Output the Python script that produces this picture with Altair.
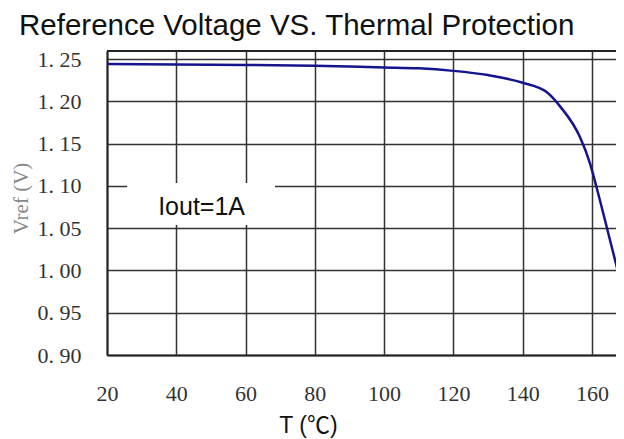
import altair as alt
import pandas as pd

# ---- data ----
temps = [20, 40, 60, 80, 100, 110, 120, 130, 140, 146.9, 150.8, 156.5, 159.4, 162.3, 165.2, 169.3, 171]
vref = [1.244, 1.2435, 1.243, 1.242, 1.240, 1.239, 1.236, 1.231, 1.222, 1.211, 1.194,
        1.158, 1.127, 1.083, 1.036, 0.969, 0.940]
x_ticks = [20, 40, 60, 80, 100, 120, 140, 160]
y_ticks = [0.90, 0.95, 1.00, 1.05, 1.10, 1.15, 1.20, 1.25]

title_text = "Reference Voltage VS. Thermal Protection"
x_title = "T (℃)"
y_title = "Vref (V)"
note_text = "Iout=1A"

df = pd.DataFrame({"T": temps, "Vref": vref})

W, H = 509, 304
xscale = alt.Scale(domain=[20, 166.94], nice=False, zero=False)
yscale = alt.Scale(domain=[0.90, 1.2595], nice=False, zero=False)

x_axis = alt.Axis(
    values=x_ticks, title=x_title, grid=True, ticks=False,
    domain=True, domainColor="#222222", domainWidth=2,
    gridColor="#333333", gridWidth=1.5, gridOpacity=1,
    labelFont="Liberation Serif", labelFontSize=22, labelColor="#333333",
    labelPadding=28, labelFlush=False, labelOverlap=False,
    titleFont="Liberation Sans, Noto Sans CJK SC", titleFontSize=23,
    titleFontWeight="normal", titleColor="#111111",
    titleX=201, titleY=77, titleAlign="center", titleBaseline="alphabetic",
)
y_axis = alt.Axis(
    values=y_ticks, title=y_title, grid=True, ticks=False,
    domain=True, domainColor="#222222", domainWidth=2,
    gridColor="#333333", gridWidth=1.5, gridOpacity=1,
    labelFont="Liberation Serif", labelFontSize=22, labelColor="#333333",
    labelPadding=26, labelFlush=False, labelOverlap=False,
    labelExpr="replace(format(datum.value, '.2f'), '.', '. ')",
    titleFont="Liberation Serif", titleFontSize=21, titleFontWeight="normal",
    titleColor="#8a8a8a", titleX=-80, titleY=147, titleAngle=270,
    titleAlign="center", titleBaseline="alphabetic",
)

line = alt.Chart(df).mark_line(
    color="#14148c", strokeWidth=2.5, interpolate="monotone", clip=True
).encode(
    x=alt.X("T:Q", scale=xscale, axis=x_axis),
    y=alt.Y("Vref:Q", scale=yscale, axis=y_axis),
)

one = pd.DataFrame({"k": [0]})

top_border = alt.Chart(one).mark_rule(color="#222222", strokeWidth=2).encode(
    x=alt.value(0), x2=alt.value(W), y=alt.value(0)
)

note_box = alt.Chart(one).mark_rect(color="white", opacity=1).encode(
    x=alt.datum(25.8), x2=alt.datum(68.5), y=alt.datum(1.1034), y2=alt.datum(1.0537)
)

note = alt.Chart(one).mark_text(
    font="Liberation Sans", fontSize=25, color="#111111", align="center", baseline="middle"
).encode(x=alt.datum(47.3), y=alt.datum(1.0756), text=alt.value(note_text))

title = alt.Chart(one).mark_text(
    font="Liberation Sans", fontSize=29.5, color="#111111", align="left", baseline="alphabetic"
).encode(x=alt.value(-88), y=alt.value(-16), text=alt.value(title_text))

chart = alt.layer(line, top_border, note_box, note, title).properties(
    width=W, height=H,
    autosize=alt.AutoSizeParams(type="none"),
    padding={"left": 99, "top": 43, "right": 0, "bottom": 88},
).configure_view(stroke=None).configure(background="white")

chart.save("out.html", embed_options={"renderer": "svg", "actions": False})
